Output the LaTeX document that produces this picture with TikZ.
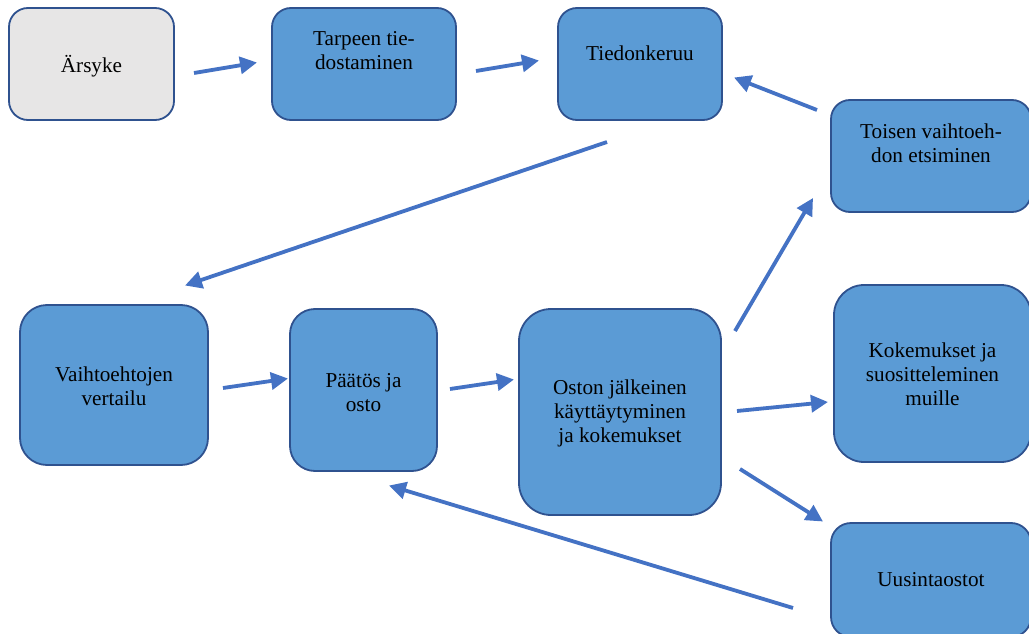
\documentclass[tikz,border=0pt]{standalone}
\usepackage{fontspec}
\setmainfont{Liberation Serif}
\usetikzlibrary{arrows.meta}
\definecolor{boxfill}{HTML}{5B9BD5}
\definecolor{boxline}{HTML}{2F528F}
\definecolor{greyfill}{HTML}{E7E6E6}
\definecolor{arrowcol}{HTML}{4472C4}
\tikzset{
  box/.style={draw=boxline, line width=1.8pt, fill=boxfill, inner sep=0pt},
  greybox/.style={box, fill=greyfill},
  txt/.style={align=center, inner sep=0pt, font=\fontsize{21.2}{24}\selectfont},
  conn/.style={draw=arrowcol, line width=3.8pt, -{Triangle[length=17pt,width=17pt]}},
}
\begin{document}
\begin{tikzpicture}[x=1pt,y=-1pt]
\useasboundingbox (0,0) rectangle (1029,634);
\clip (0,0) rectangle (1029,634);
% boxes
\node[greybox, rounded corners=19pt, minimum width=165pt, minimum height=112pt] (b1) at (91.5,64) {};
\node[box, rounded corners=19pt, minimum width=184pt, minimum height=112pt] (b2) at (364,64) {};
\node[box, rounded corners=19pt, minimum width=164pt, minimum height=112pt] (b3) at (640,64) {};
\node[box, rounded corners=19pt, minimum width=200pt, minimum height=112pt] (b4) at (931,156) {};
\node[box, rounded corners=27pt, minimum width=188pt, minimum height=160pt] (b5) at (114,385) {};
\node[box, rounded corners=25pt, minimum width=147pt, minimum height=162pt] (b6) at (363.5,390) {};
\node[box, rounded corners=32pt, minimum width=202pt, minimum height=206pt] (b7) at (620,412) {};
\node[box, rounded corners=30pt, minimum width=197pt, minimum height=177pt] (b8) at (932.5,373.5) {};
\node[box, rounded corners=20pt, minimum width=200pt, minimum height=114pt] (b9) at (931,580) {};
% texts
\node[txt] (t1) at (91.5,66) {Ärsyke};
\node[txt] (t2) at (364,51) {Tarpeen tie-\\dostaminen};
\node[txt] (t3) at (640,53) {Tiedonkeruu};
\node[txt] (t4) at (931,143) {Toisen vaihtoeh-\\don etsiminen};
\node[txt] (t5) at (114,386) {Vaihtoehtojen\\vertailu};
\node[txt] (t6) at (363.5,393) {Päätös ja\\osto};
\node[txt] (t7) at (620,413) {Oston jälkeinen\\käyttäytyminen\\ja kokemukset};
\node[txt] (t8) at (932.5,374) {Kokemukset ja\\suositteleminen\\muille};
\node[txt] (t9) at (931,580) {Uusintaostot};
% connector end points
\coordinate (a1) at (194,73);  \coordinate (a2) at (257,62.5);
\coordinate (c1) at (476,71);  \coordinate (c2) at (539,60.5);
\coordinate (d1) at (607,142); \coordinate (d2) at (185,285.5);
\coordinate (e1) at (223,388); \coordinate (e2) at (288,378.5);
\coordinate (f1) at (450,389); \coordinate (f2) at (514,379.5);
\coordinate (g1) at (735,331); \coordinate (g2) at (813,198);
\coordinate (h1) at (817,110); \coordinate (h2) at (734,77.5);
\coordinate (i1) at (737,411); \coordinate (i2) at (828,402);
\coordinate (j1) at (740,469); \coordinate (j2) at (823,521.5);
\coordinate (k1) at (793,608); \coordinate (k2) at (389,485.5);
% connectors
\draw[conn] (a1) -- (a2);
\draw[conn] (c1) -- (c2);
\draw[conn] (d1) -- (d2);
\draw[conn] (e1) -- (e2);
\draw[conn] (f1) -- (f2);
\draw[conn] (g1) -- (g2);
\draw[conn] (h1) -- (h2);
\draw[conn] (i1) -- (i2);
\draw[conn] (j1) -- (j2);
\draw[conn] (k1) -- (k2);
\end{tikzpicture}
\end{document}
